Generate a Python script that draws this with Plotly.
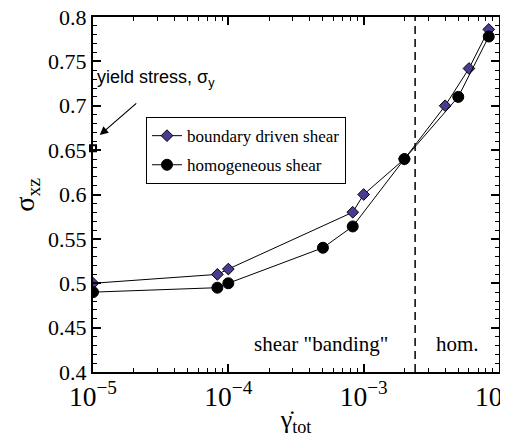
import plotly.graph_objects as go

# ---- data ----
bd_rate = [1e-5, 8.3e-5, 1e-4, 8.3e-4, 1e-3, 2e-3, 4e-3, 6e-3, 8.4e-3]
bd_stress = [0.500, 0.510, 0.516, 0.580, 0.600, 0.640, 0.700, 0.742, 0.786]

hom_rate = [1e-5, 8.3e-5, 1e-4, 5e-4, 8.3e-4, 2e-3, 5e-3, 8.4e-3]
hom_stress = [0.490, 0.495, 0.500, 0.540, 0.564, 0.640, 0.710, 0.778]

yield_rate = [1e-5]
yield_stress = [0.652]

boundary_rate = 2.4e-3
y_limits = [0.4, 0.8]

serif = "Liberation Serif"
sans = "Liberation Sans"

fig = go.Figure()

fig.add_trace(go.Scatter(
    x=[boundary_rate, boundary_rate], y=y_limits, mode="lines",
    line=dict(color="black", width=1.5, dash="8px,5px"),
    showlegend=False, hoverinfo="skip"))

fig.add_trace(go.Scatter(
    x=bd_rate, y=bd_stress, mode="lines+markers", name="boundary driven shear",
    legendgroup="a",
    line=dict(color="black", width=1),
    marker=dict(symbol="diamond", size=9, color="#4B3A8F",
                line=dict(color="black", width=1))))

fig.add_trace(go.Scatter(
    x=hom_rate, y=hom_stress, mode="lines+markers", name="homogeneous shear",
    legendgroup="b",
    line=dict(color="black", width=1),
    marker=dict(symbol="circle", size=11, color="black",
                line=dict(color="black", width=1))))

fig.add_trace(go.Scatter(
    x=yield_rate, y=yield_stress, mode="markers", showlegend=False,
    marker=dict(symbol="square", size=6, color="white",
                line=dict(color="black", width=2)),
    cliponaxis=False))

fig.update_layout(
    width=508, height=429,
    margin=dict(l=85, r=17, t=9, b=65),
    paper_bgcolor="white", plot_bgcolor="white",
    font=dict(family=serif, color="black"),
    showlegend=True,
    legend=dict(x=0.1305, y=0.718, xanchor="left", yanchor="top",
                bordercolor="black", borderwidth=1, bgcolor="white",
                font=dict(family=serif, size=17), itemwidth=30,
                tracegroupgap=4),
)

fig.update_xaxes(
    type="log", range=[-5, -2], dtick=1, exponentformat="power",
    automargin=False, ticklabeloverflow="allow",
    showgrid=False, zeroline=False,
    showline=True, linecolor="black", linewidth=2, mirror="allticks",
    ticks="inside", ticklen=8, tickwidth=1.5, tickcolor="black",
    minor=dict(ticks="inside", ticklen=4, tickwidth=1, tickcolor="black",
               dtick="D1", showgrid=False),
    tickfont=dict(family=serif, size=22),
    title=dict(text="γ̇<sub>tot</sub>", font=dict(family=serif, size=26),
               standoff=0),
)

fig.update_yaxes(
    range=y_limits, dtick=0.05, tickformat="~g",
    automargin=False, ticklabeloverflow="allow",
    showgrid=False, zeroline=False,
    showline=True, linecolor="black", linewidth=2, mirror="allticks",
    ticks="inside", ticklen=8, tickwidth=1.5, tickcolor="black",
    minor=dict(ticks="inside", ticklen=4, tickwidth=1, tickcolor="black",
               dtick=0.01, showgrid=False),
    tickfont=dict(family=serif, size=22),
)

fig.add_annotation(x=-0.163, y=0.499, xref="paper", yref="paper",
                   xanchor="center", yanchor="middle", showarrow=False,
                   textangle=-90, text="σ<sub>xz</sub>",
                   font=dict(family=serif, size=28))
fig.add_annotation(x=-4.985, y=0.731, xref="x", yref="y", xanchor="left",
                   yanchor="middle", showarrow=False,
                   text="yield stress, σ<sub>y</sub>",
                   font=dict(family=sans, size=18))
fig.add_annotation(x=-4.95, y=0.667, xref="x", yref="y", text="",
                   showarrow=True, ax=38, ay=-33, arrowhead=2,
                   arrowsize=1.4, arrowwidth=1.2, arrowcolor="black")
fig.add_annotation(x=0.731, y=0.08, xref="paper", yref="paper",
                   xanchor="right", yanchor="middle", showarrow=False,
                   text='shear "banding"', font=dict(family=serif, size=21))
fig.add_annotation(x=0.898, y=0.08, xref="paper", yref="paper",
                   xanchor="center", yanchor="middle", showarrow=False,
                   text="hom.", font=dict(family=serif, size=21))

fig.write_html("out.html")
